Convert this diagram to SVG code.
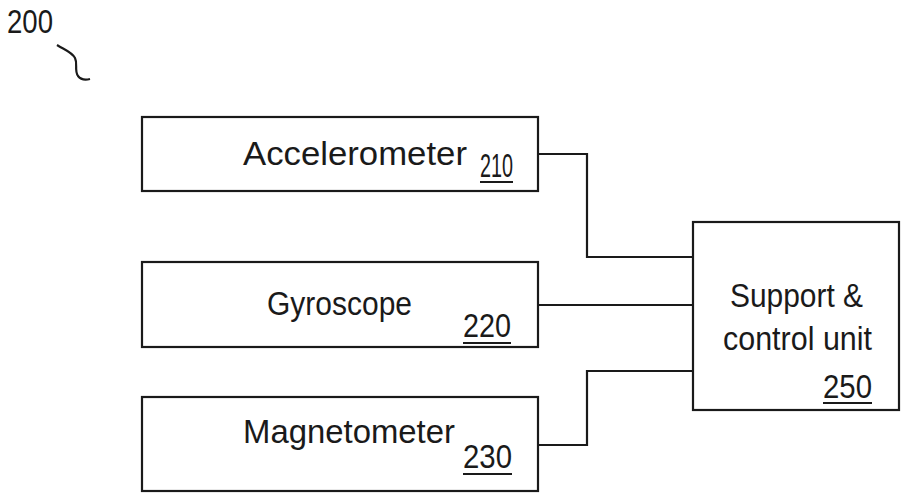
<svg xmlns="http://www.w3.org/2000/svg" width="903" height="494" viewBox="0 0 903 494">
<style>
.box{fill:#fff;stroke:#1a1a1a;stroke-width:2.2}
.wire{fill:none;stroke:#1a1a1a;stroke-width:2.2}
.t{font-family:"Liberation Sans",Arial,sans-serif;font-size:34px;fill:#1a1a1a}
.ul{stroke:#1a1a1a;stroke-width:2}
</style>
<rect width="903" height="494" fill="#fff"/>
<g id="label200">
<text class="t" x="7" y="33" textLength="46" lengthAdjust="spacingAndGlyphs">200</text>
<path class="wire" d="M57,45 C65,50 72,52 75,58 C78,64 74,70 78,76 C81,80 86,80 90,79"/>
</g>
<g id="connectors">
<polyline class="wire" points="538,154 587,154 587,257 693,257"/>
<polyline class="wire" points="538,305 693,305"/>
<polyline class="wire" points="538,445 587,445 587,371 693,371"/>
</g>
<g id="accelerometer">
<rect class="box" x="142" y="117" width="396" height="74"/>
<text class="t" x="243" y="165" textLength="224" lengthAdjust="spacingAndGlyphs">Accelerometer</text>
<text class="t" x="480" y="177" textLength="33" lengthAdjust="spacingAndGlyphs">210</text>
<line class="ul" x1="480" y1="182" x2="513" y2="182"/>
</g>
<g id="gyroscope">
<rect class="box" x="142" y="262" width="396" height="85"/>
<text class="t" x="267" y="315" textLength="145" lengthAdjust="spacingAndGlyphs">Gyroscope</text>
<text class="t" x="463" y="337" textLength="48" lengthAdjust="spacingAndGlyphs">220</text>
<line class="ul" x1="463" y1="343" x2="511" y2="343"/>
</g>
<g id="magnetometer">
<rect class="box" x="142" y="397" width="396" height="94"/>
<text class="t" x="243" y="443" textLength="212" lengthAdjust="spacingAndGlyphs">Magnetometer</text>
<text class="t" x="463" y="468" textLength="49" lengthAdjust="spacingAndGlyphs">230</text>
<line class="ul" x1="463" y1="474" x2="512" y2="474"/>
</g>
<g id="support">
<rect class="box" x="693" y="222" width="206" height="188"/>
<text class="t" x="730" y="307" textLength="133" lengthAdjust="spacingAndGlyphs">Support &amp;</text>
<text class="t" x="723" y="350" textLength="149" lengthAdjust="spacingAndGlyphs">control unit</text>
<text class="t" x="823" y="398" textLength="49" lengthAdjust="spacingAndGlyphs">250</text>
<line class="ul" x1="823" y1="403" x2="872" y2="403"/>
</g>
</svg>
